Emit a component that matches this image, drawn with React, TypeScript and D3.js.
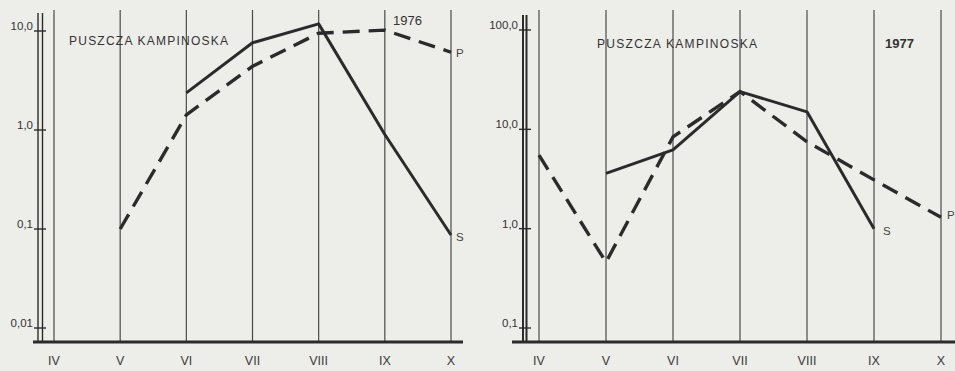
import React from "react";
import * as d3 from "d3";

const months = ["IV", "V", "VI", "VII", "VIII", "IX", "X"];

// 1976 panel: S = solid series, P = dashed series (null = no observation)
const s1976: (number | null)[] = [null, null, 2.37, 7.6, 11.8, 0.9, 0.087];
const p1976: (number | null)[] = [null, 0.1, 1.42, 4.4, 9.5, 10.2, 6.1];
const ticks1976 = [10, 1, 0.1, 0.01];
const tickLabels1976 = ["10,0", "1,0", "0,1", "0,01"];

// 1977 panel
const s1977: (number | null)[] = [null, 3.6, 6.2, 24, 15, 1.0, null];
const p1977: (number | null)[] = [5.5, 0.46, 8.4, 24, 7.5, 3.1, 1.3];
const ticks1977 = [100, 10, 1, 0.1];
const tickLabels1977 = ["100,0", "10,0", "1,0", "0,1"];

const title = "PUSZCZA KAMPINOSKA";
const ink = "#2b2b2b";
const font = "'Liberation Sans', Arial, sans-serif";

type PanelProps = {
  x0: number;
  x1: number;
  yDomain: [number, number];
  yRange: [number, number];
  s: (number | null)[];
  p: (number | null)[];
  ticks: number[];
  tickLabels: string[];
  axisX: number;
  thickAxis: boolean;
  baseFrom: number;
  baseTo: number;
  gridTop: number;
  year: string;
  yearX: number;
  yearY: number;
  yearBold: boolean;
  titleX: number;
  titleY: number;
  titleW: number;
  sLabel: [number, number];
  pLabel: [number, number];
};

function Panel(props: PanelProps) {
  const baseY = 342;
  const x = d3.scalePoint<string>().domain(months).range([props.x0, props.x1]);
  const y = d3.scaleLog().domain(props.yDomain).range(props.yRange);

  const toPts = (vals: (number | null)[]) =>
    vals
      .map((v, i) => (v == null ? null : ([x(months[i]) as number, y(v)] as [number, number])))
      .filter((d): d is [number, number] => d !== null);

  const line = d3.line<[number, number]>().x((d) => d[0]).y((d) => d[1]);

  return (
    <g>
      {/* month gridlines */}
      {months.map((m) => (
        <line
          key={m}
          x1={x(m)}
          x2={x(m)}
          y1={props.gridTop}
          y2={baseY}
          stroke="#4a4a4a"
          strokeWidth={1.2}
        />
      ))}
      {/* value axis */}
      {props.thickAxis ? (
        <g>
          <line x1={props.axisX} x2={props.axisX} y1={15} y2={baseY} stroke={ink} strokeWidth={2} />
          <line x1={props.axisX + 3.5} x2={props.axisX + 3.5} y1={15} y2={baseY} stroke={ink} strokeWidth={2} />
        </g>
      ) : (
        <g>
          <line x1={props.axisX} x2={props.axisX} y1={13} y2={baseY} stroke={ink} strokeWidth={1.4} />
          <line x1={props.axisX + 4.5} x2={props.axisX + 4.5} y1={13} y2={baseY} stroke={ink} strokeWidth={1.4} />
        </g>
      )}
      {props.ticks.map((t, i) => (
        <g key={t}>
          <line
            x1={props.axisX - 4}
            x2={props.axisX + 8}
            y1={y(t)}
            y2={y(t)}
            stroke={ink}
            strokeWidth={1.4}
          />
          <text
            x={props.axisX - 5}
            y={y(t) - 1}
            textAnchor="end"
            fontFamily={font}
            fontSize={11.5}
            fill="#333"
          >
            {props.tickLabels[i]}
          </text>
        </g>
      ))}
      {/* baseline */}
      <line x1={props.baseFrom} x2={props.baseTo} y1={baseY} y2={baseY} stroke={ink} strokeWidth={3} />
      {months.map((m) => (
        <text
          key={"l" + m}
          x={x(m)}
          y={365}
          textAnchor="middle"
          fontFamily={font}
          fontSize={12.5}
          fill="#3a3a3a"
        >
          {m}
        </text>
      ))}
      {/* series */}
      <path d={line(toPts(props.s)) || ""} fill="none" stroke={ink} strokeWidth={3} strokeLinejoin="round" />
      <path
        d={line(toPts(props.p)) || ""}
        fill="none"
        stroke={ink}
        strokeWidth={3.4}
        strokeDasharray="17,9"
      />
      <text x={props.sLabel[0]} y={props.sLabel[1]} fontFamily={font} fontSize={11.5} fill="#444">
        S
      </text>
      <text x={props.pLabel[0]} y={props.pLabel[1]} fontFamily={font} fontSize={11.5} fill="#444">
        P
      </text>
      <text
        x={props.titleX}
        y={props.titleY}
        fontFamily={font}
        fontSize={12}
        fill="#333"
        textLength={props.titleW}
        lengthAdjust="spacing"
      >
        {title}
      </text>
      <text
        x={props.yearX}
        y={props.yearY}
        fontFamily={font}
        fontSize={13}
        fontWeight={props.yearBold ? "bold" : "normal"}
        fill="#333"
      >
        {props.year}
      </text>
    </g>
  );
}

export default function App() {
  return (
    <svg
      width={955}
      height={371}
      viewBox="0 0 955 371"
      style={{ position: "fixed", left: 0, top: 0, display: "block" }}
    >
      <rect width={955} height={371} fill="#edede9" />
      <Panel
        x0={54}
        x1={451}
        yDomain={[0.01, 10]}
        yRange={[328, 31]}
        s={s1976}
        p={p1976}
        ticks={ticks1976}
        tickLabels={tickLabels1976}
        axisX={38}
        thickAxis={false}
        baseFrom={33}
        baseTo={463}
        gridTop={10}
        year="1976"
        yearX={393}
        yearY={25}
        yearBold={false}
        titleX={69}
        titleY={45}
        titleW={159}
        sLabel={[456, 241]}
        pLabel={[456, 57]}
      />
      <Panel
        x0={539}
        x1={941}
        yDomain={[0.1, 100]}
        yRange={[328, 30]}
        s={s1977}
        p={p1977}
        ticks={ticks1977}
        tickLabels={tickLabels1977}
        axisX={523}
        thickAxis={true}
        baseFrom={512}
        baseTo={955}
        gridTop={10}
        year="1977"
        yearX={885}
        yearY={48}
        yearBold={true}
        titleX={597}
        titleY={48}
        titleW={160}
        sLabel={[883, 235]}
        pLabel={[947, 219]}
      />
    </svg>
  );
}
